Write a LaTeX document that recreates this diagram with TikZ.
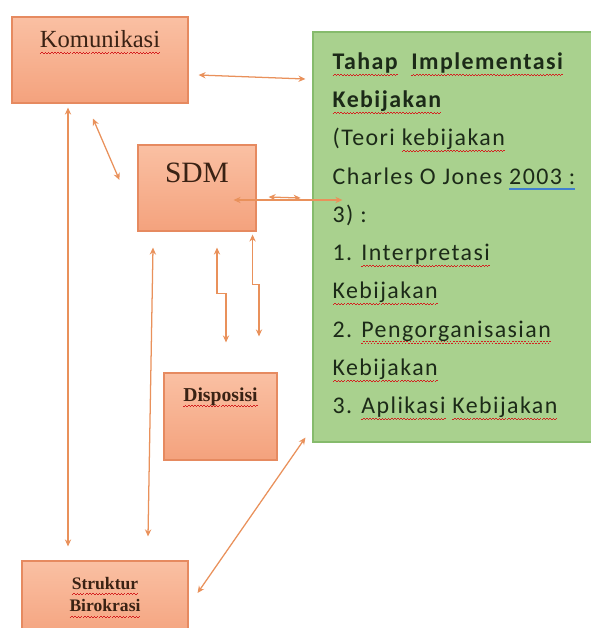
\documentclass[tikz,border=0pt]{standalone}
\usepackage{fontspec}
\setmainfont{Carlito}[LetterSpace=6]
\newfontfamily\boxserif{Liberation Serif}
\usepackage{tikz}
\usetikzlibrary{arrows.meta, positioning, calc}

\definecolor{oline}{HTML}{E68A60}
\definecolor{otop}{HTML}{FAC0A3}
\definecolor{obot}{HTML}{F4A27D}
\definecolor{gfill}{HTML}{A9D18E}
\definecolor{gline}{HTML}{86BB6C}
\definecolor{linkcol}{HTML}{E9915B}
\definecolor{otextcol}{HTML}{3A2214}
\definecolor{gtextcol}{HTML}{1C2A18}
\definecolor{spellcol}{HTML}{D42020}
\definecolor{gramcol}{HTML}{3F7FD0}

% spell-check style underlines
\newcommand\spellred[1]{\setbox0\hbox{#1}%
  \rlap{\raisebox{-4pt}[0pt][0pt]{\hbox to\wd0{\color{spellcol}\xleaders\hbox{\rule[-0.5pt]{1.1pt}{0.7pt}\rule[0.3pt]{1.1pt}{0.7pt}}\hfill}}}#1}
\newcommand\spellblue[1]{\setbox0\hbox{#1}%
  \rlap{\raisebox{-4pt}[0pt][0pt]{\color{gramcol}\rule{\wd0}{1.6pt}}}#1}

\tikzset{
  obox/.style={draw=oline, line width=0.8pt, top color=otop, bottom color=obot, inner sep=0pt},
  otext/.style={inner sep=0pt, text=otextcol, align=center},
  gbox/.style={draw=gline, line width=0.8pt, fill=gfill, inner sep=0pt},
  gtext/.style={inner sep=0pt, text=gtextcol, align=left, font=\fontsize{17}{27.2}\selectfont},
  link/.style={draw=linkcol, line width=0.9pt}
}

\begin{document}
\begin{tikzpicture}[x=0.25mm, y=-0.25mm, >={Stealth[length=5pt,width=4.5pt]}]
  \useasboundingbox (0,0) rectangle (591,628);
  % boxes
  \node[obox, minimum width=44mm, minimum height=21.5mm] (kom) at (100,60) {};
  \node[obox, minimum width=29.5mm, minimum height=21.5mm] (sdm) at (197,188) {};
  \node[obox, minimum width=28.25mm, minimum height=21.75mm] (disp) at (220.5,416.5) {};
  \node[obox, minimum width=41.5mm, minimum height=20mm] (str) at (105,601) {};
  \node[gbox, minimum width=70.5mm, minimum height=102.5mm] (green) at (454,237) {};
  % box texts
  \node[otext, font=\boxserif\fontsize{17.5}{20}\selectfont, below=10pt of kom.north] (komtxt) {\spellred{Komunikasi}};
  \node[otext, font=\boxserif\fontsize{21}{23}\selectfont, below=13pt of sdm.north] (sdmtxt) {SDM};
  \node[otext, font=\boxserif\bfseries\fontsize{14}{16}\selectfont, below=10.5pt of disp.north] (disptxt) {\spellred{Disposisi}};
  \node[otext, font=\boxserif\bfseries\fontsize{12.5}{16}\selectfont, below=11.5pt of str.north] (strtxt) {\spellred{Struktur}\\ \spellred{Birokrasi}};
  \node[gtext, anchor=north west] (gtxt) at ($(green.north west)+(20,21)$) {%
    \textbf{\spellred{Tahap}\ \ \spellred{Implementasi}}\\
    \textbf{\spellred{Kebijakan}}\\
    (Teori \spellred{kebijakan}\\
    Charles O Jones \spellblue{2003 :}\\
    3) :\\
    1. \spellred{Interpretasi}\\
    \spellred{Kebijakan}\\
    2. \spellred{Pengorganisasian}\\
    \spellred{Kebijakan}\\
    3. \spellred{Aplikasi} \spellred{Kebijakan}};
  % connectors
  \draw[link,<->] ($(kom.east)+(10,15)$) -- ($(green.west)+(-7,-158)$);
  \draw[link,<->] ($(kom.south)+(-7,15)$) -- ($(sdm.west)+(-18,-8)$);
  \draw[link,<->] ($(kom.south)+(-32,4)$) -- ($(str.north)+(-37,-14)$);
  \draw[link,<->] ($(sdm.south)+(-44,16)$) -- ($(str.north)+(43,-24)$);
  \draw[link,<->] ($(str.east)+(9,-8)$) -- ($(green.south west)+(-7,-5)$);
  \draw[link,<->] ($(sdm.east)+(-23,12)$) -- ($(green.west)+(30,-37)$);
  \draw[link,<->] ($(sdm.east)+(12,9)$) -- ($(sdm.east)+(44,10)$);
  % SDM -- Disposisi
  \draw[link,<->] ($(sdm.south)+(20,16)$) -- ++(0,46) -| ($(disp.north)+(5.5,-30)$);
  \draw[link,<->] ($(sdm.south east)+(-4,3)$) -- ++(0,50) -| ($(disp.north)+(38.5,-36)$);
\end{tikzpicture}
\end{document}
